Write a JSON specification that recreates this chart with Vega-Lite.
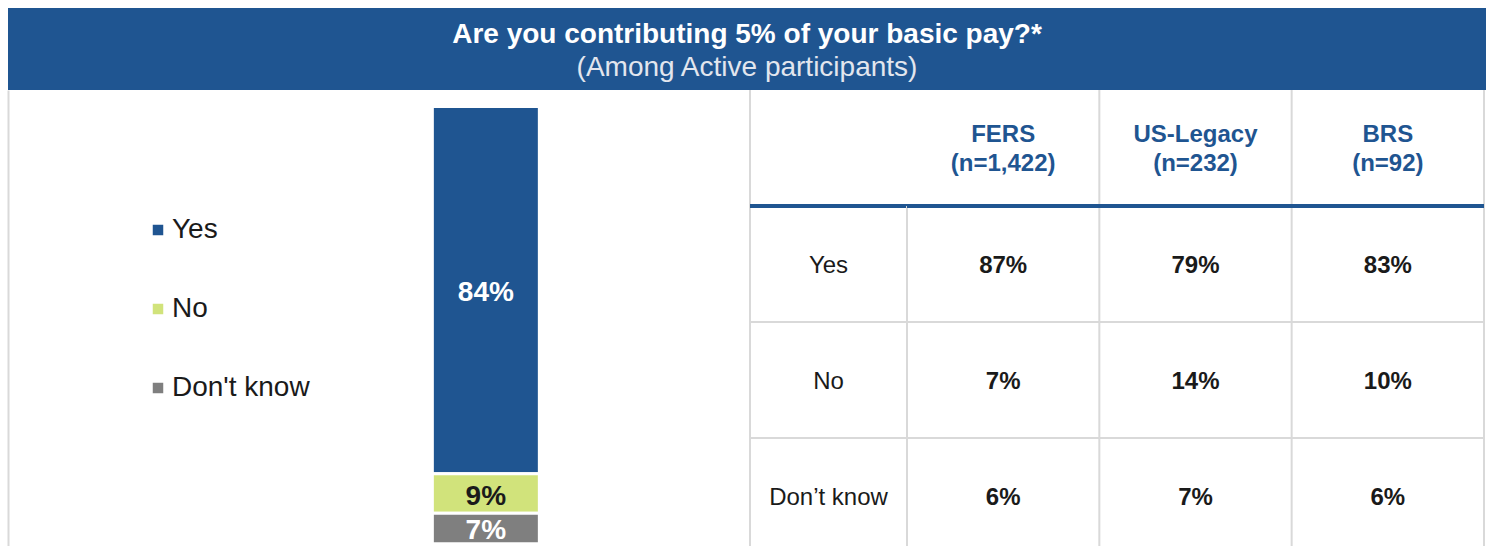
{
  "$schema": "https://vega.github.io/schema/vega-lite/v6.json",
  "padding": {"left": 8, "top": 8, "right": 0, "bottom": 0},
  "background": "white",
  "config": {
    "view": {"stroke": null},
    "font": "Liberation Sans"
  },
  "datasets": {
    "banner": [
      {"line": "title", "text": "Are you contributing 5% of your basic pay?*"},
      {"line": "subtitle", "text": "(Among Active participants)"}
    ],
    "bar": [
      {"group": "Active participants", "response": "Yes", "pct": 0.84},
      {"group": "Active participants", "response": "No", "pct": 0.09},
      {"group": "Active participants", "response": "Don't know", "pct": 0.07}
    ],
    "rows": [
      {"row": "Yes"},
      {"row": "No"},
      {"row": "Don’t know"}
    ],
    "header": [
      {"row": "header", "col": "FERS", "name": "FERS", "n": "(n=1,422)"},
      {"row": "header", "col": "US-Legacy", "name": "US-Legacy", "n": "(n=232)"},
      {"row": "header", "col": "BRS", "name": "BRS", "n": "(n=92)"}
    ],
    "cells": [
      {"row": "Yes", "col": "FERS", "pct": 0.87},
      {"row": "Yes", "col": "US-Legacy", "pct": 0.79},
      {"row": "Yes", "col": "BRS", "pct": 0.83},
      {"row": "No", "col": "FERS", "pct": 0.07},
      {"row": "No", "col": "US-Legacy", "pct": 0.14},
      {"row": "No", "col": "BRS", "pct": 0.10},
      {"row": "Don’t know", "col": "FERS", "pct": 0.06},
      {"row": "Don’t know", "col": "US-Legacy", "pct": 0.07},
      {"row": "Don’t know", "col": "BRS", "pct": 0.06}
    ]
  },
  "spacing": 0,
  "bounds": "flush",
  "vconcat": [
    {
      "width": 1478,
      "height": 82,
      "view": {"fill": "#1F5591", "stroke": null},
      "data": {"name": "banner"},
      "layer": [
        {
          "transform": [{"filter": "datum.line === 'title'"}],
          "mark": {"type": "text", "fontSize": 28, "fontWeight": "bold", "color": "white", "baseline": "middle"},
          "encoding": {
            "y": {"field": "line", "type": "nominal", "axis": null,
                  "scale": {"type": "band", "domain": ["title", "subtitle"], "paddingInner": 0, "paddingOuter": 0.2424, "align": 0.656}},
            "text": {"field": "text"}
          }
        },
        {
          "transform": [{"filter": "datum.line === 'subtitle'"}],
          "mark": {"type": "text", "fontSize": 28, "fontWeight": "normal", "color": "#E2E6EE", "baseline": "middle"},
          "encoding": {
            "y": {"field": "line", "type": "nominal", "axis": null},
            "text": {"field": "text"}
          }
        }
      ]
    },
    {
      "spacing": 0,
      "bounds": "flush",
      "resolve": {"scale": {"x": "independent", "y": "independent", "color": "independent"}, "legend": {"color": "independent"}},
      "hconcat": [
        {
          "width": 742,
          "height": 456,
          "data": {"name": "bar"},
          "layer": [
            {
              "mark": {"type": "bar", "stroke": "white", "strokeWidth": 3, "width": 107},
              "encoding": {
                "x": {"field": "group", "type": "nominal", "axis": null,
                      "scale": {"type": "band", "paddingInner": 0, "paddingOuter": 1, "align": 0.716}},
                "y": {"field": "pct", "type": "quantitative", "stack": "zero",
                      "scale": {"domain": [-0.00503, 1.03777], "nice": false, "zero": false},
                      "axis": {"orient": "left", "labels": false, "ticks": false, "grid": false, "title": null,
                               "domain": true, "domainColor": "#D9D9D9", "domainWidth": 2}},
                "color": {"field": "response", "type": "nominal",
                          "scale": {"domain": ["Yes", "No", "Don't know"], "range": ["#1F5591", "#D1E37B", "#7F7F7F"]},
                          "legend": {"orient": "none", "legendX": 136, "legendY": 126, "title": null,
                                     "symbolType": "square", "symbolSize": 110, "symbolStrokeWidth": 0,
                                     "labelFontSize": 28, "labelFont": "Liberation Sans", "labelColor": "#1a1a1a",
                                     "labelOffset": 0, "rowPadding": 51, "labelLimit": 0, "padding": 0}},
                "order": {"field": "response", "sort": "ascending"}
              }
            },
            {
              "mark": {"type": "text", "fontSize": 28, "fontWeight": "bold", "baseline": "middle", "dy": 3},
              "encoding": {
                "x": {"field": "group", "type": "nominal", "axis": null},
                "y": {"field": "pct", "type": "quantitative", "stack": "zero", "bandPosition": 0.5},
                "detail": {"field": "response"},
                "order": {"field": "response", "sort": "ascending"},
                "text": {"field": "pct", "format": ".0%"},
                "color": {"condition": {"test": "datum.response === 'No'", "value": "#1a1a1a"}, "value": "white"}
              }
            }
          ]
        },
        {
          "width": 157,
          "height": 456,
          "layer": [
            {
              "data": {"name": "rows"},
              "transform": [{"filter": "datum.row !== 'Yes'"}],
              "mark": {"type": "rule", "color": "#D9D9D9", "strokeWidth": 2},
              "encoding": {
                "y": {"field": "row", "type": "nominal", "bandPosition": 0, "axis": null,
                      "scale": {"type": "band", "domain": ["header", "Yes", "No", "Don’t know"], "range": [0, 464], "paddingInner": 0, "paddingOuter": 0}}
              }
            },
            {
              "data": {"name": "rows"},
              "transform": [{"filter": "datum.row === 'Yes'"}],
              "mark": {"type": "rule", "color": "#D9D9D9", "strokeWidth": 2},
              "encoding": {
                "x": {"datum": "label", "type": "nominal", "bandPosition": 0, "axis": null,
                      "scale": {"type": "band", "paddingInner": 0, "paddingOuter": 0}}
              }
            },
            {
              "data": {"name": "rows"},
              "transform": [{"filter": "datum.row === 'Yes'"}],
              "mark": {"type": "rule", "color": "#1F5591", "strokeWidth": 4},
              "encoding": {
                "y": {"field": "row", "type": "nominal", "bandPosition": 0}
              }
            },
            {
              "data": {"name": "rows"},
              "mark": {"type": "text", "fontSize": 24, "color": "#1a1a1a", "baseline": "middle", "dy": 2},
              "encoding": {
                "y": {"field": "row", "type": "nominal"},
                "text": {"field": "row"}
              }
            }
          ]
        },
        {
          "width": 577,
          "height": 456,
          "layer": [
            {
              "data": {"name": "rows"},
              "transform": [{"filter": "datum.row !== 'Yes'"}],
              "mark": {"type": "rule", "color": "#D9D9D9", "strokeWidth": 2},
              "encoding": {
                "y": {"field": "row", "type": "nominal", "bandPosition": 0, "axis": null,
                      "scale": {"type": "band", "domain": ["header", "Yes", "No", "Don’t know"], "range": [0, 464], "paddingInner": 0, "paddingOuter": 0}}
              }
            },
            {
              "data": {"name": "header"},
              "transform": [{"filter": "datum.col !== 'FERS'"}],
              "mark": {"type": "rule", "color": "#D9D9D9", "strokeWidth": 2},
              "encoding": {
                "x": {"field": "col", "type": "nominal", "bandPosition": 0, "axis": null,
                      "scale": {"type": "band", "domain": ["FERS", "US-Legacy", "BRS"], "paddingInner": 0, "paddingOuter": 0}}
              }
            },
            {
              "data": {"name": "header"},
              "transform": [{"filter": "datum.col === 'BRS'"}],
              "mark": {"type": "rule", "color": "#D9D9D9", "strokeWidth": 2},
              "encoding": {
                "x": {"field": "col", "type": "nominal", "bandPosition": 1}
              }
            },
            {
              "data": {"name": "cells"},
              "transform": [{"filter": "datum.row === 'Yes' && datum.col === 'FERS'"}],
              "mark": {"type": "rule", "color": "#D9D9D9", "strokeWidth": 2},
              "encoding": {
                "x": {"field": "col", "type": "nominal", "bandPosition": 0},
                "y": {"field": "row", "type": "nominal", "bandPosition": 0},
                "y2": {"value": "height"}
              }
            },
            {
              "data": {"name": "rows"},
              "transform": [{"filter": "datum.row === 'Yes'"}],
              "mark": {"type": "rule", "color": "#1F5591", "strokeWidth": 4},
              "encoding": {
                "y": {"field": "row", "type": "nominal", "bandPosition": 0}
              }
            },
            {
              "data": {"name": "header"},
              "mark": {"type": "text", "fontSize": 24, "fontWeight": "bold", "color": "#1F5591", "baseline": "middle", "dy": -13.5},
              "encoding": {
                "x": {"field": "col", "type": "nominal"},
                "y": {"field": "row", "type": "nominal"},
                "text": {"field": "name"}
              }
            },
            {
              "data": {"name": "header"},
              "mark": {"type": "text", "fontSize": 24, "fontWeight": "bold", "color": "#1F5591", "baseline": "middle", "dy": 15.5},
              "encoding": {
                "x": {"field": "col", "type": "nominal"},
                "y": {"field": "row", "type": "nominal"},
                "text": {"field": "n"}
              }
            },
            {
              "data": {"name": "cells"},
              "mark": {"type": "text", "fontSize": 24, "fontWeight": "bold", "color": "#1a1a1a", "baseline": "middle", "dy": 2},
              "encoding": {
                "x": {"field": "col", "type": "nominal"},
                "y": {"field": "row", "type": "nominal"},
                "text": {"field": "pct", "format": ".0%"}
              }
            }
          ]
        }
      ]
    }
  ]
}
